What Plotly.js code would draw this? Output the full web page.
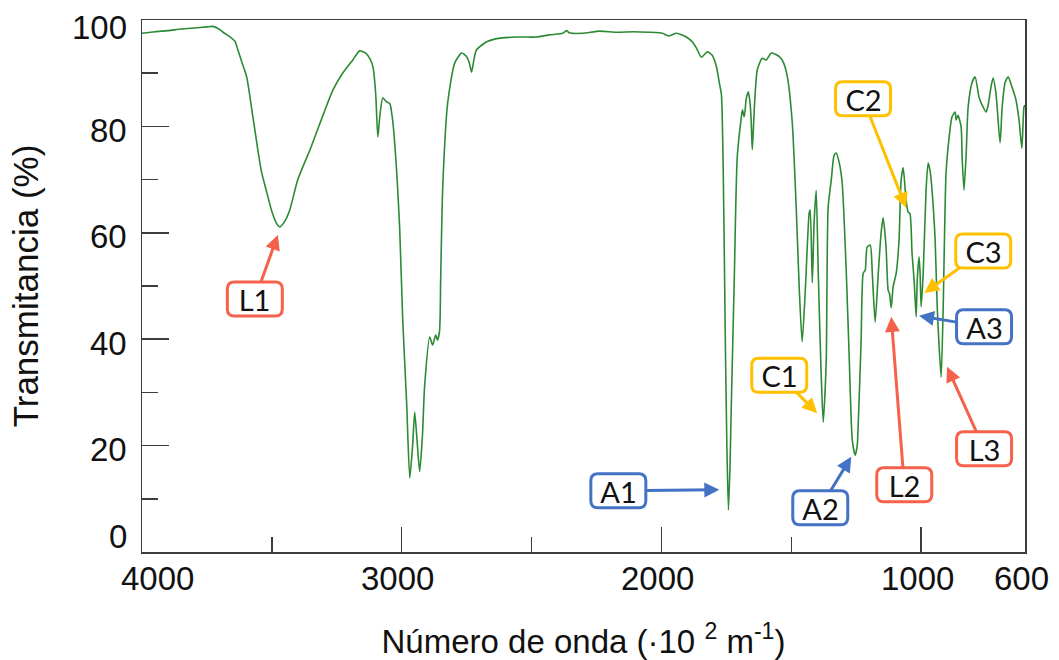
<!DOCTYPE html>
<html>
<head>
<meta charset="utf-8">
<script src="https://cdn.plot.ly/plotly-3.0.1.min.js"></script>
<style>
  html, body { margin: 0; padding: 0; background: #fff; }
  #chart { width: 1059px; height: 660px; }
</style>
</head>
<body>
<div id="chart"></div>
<script>
// IR spectrum: wavenumber (·10^2 m^-1) vs transmittance (%)
const wavenumber = [
  4000, 3950, 3900, 3850, 3800, 3750, 3727, 3700, 3688, 3660, 3642, 3631, 3615, 3597,
  3573, 3554, 3540, 3519, 3500, 3480, 3469, 3450, 3431, 3400, 3350, 3300, 3265, 3230,
  3188, 3162, 3140, 3120, 3110, 3100, 3092, 3084, 3073, 3058, 3046, 3035, 3020, 3008,
  2996, 2981, 2969, 2958, 2950, 2941, 2931, 2920, 2912, 2892, 2881, 2869, 2862, 2854,
  2850, 2842, 2823, 2796, 2769, 2750, 2740, 2731, 2722, 2712, 2673, 2635, 2558, 2481,
  2431, 2380, 2365, 2355, 2304, 2238, 2173, 2112, 2046, 1996, 1973, 1942, 1904, 1880,
  1865, 1846, 1823, 1805, 1788, 1777, 1769, 1762, 1754, 1748, 1742, 1736, 1731, 1719,
  1708, 1692, 1688, 1681, 1673, 1665, 1658, 1654, 1650, 1642, 1631, 1612, 1596, 1577,
  1546, 1530, 1515, 1496, 1481, 1469, 1458, 1446, 1431, 1427, 1419, 1412, 1404, 1396,
  1385, 1377, 1370, 1365, 1358, 1346, 1335, 1327, 1315, 1304, 1288, 1277, 1265, 1254,
  1246, 1242, 1231, 1223, 1215, 1208, 1196, 1188, 1177, 1165, 1154, 1146, 1135, 1127,
  1122, 1115, 1108, 1096, 1085, 1077, 1069, 1058, 1050, 1043, 1035, 1027, 1019, 1015,
  1008, 1004, 1000, 992, 981, 973, 965, 958, 946, 938, 923, 915, 904, 892,
  881, 869, 865, 858, 846, 842, 835, 827, 819, 804, 792, 777, 765, 750,
  742, 731, 723, 712, 696, 688, 677, 665, 650, 635, 623, 612, 604, 600
];
const transmittance = [
  97.5, 97.8, 98.0, 98.3, 98.5, 98.7, 98.8, 98.2, 97.7, 96.8, 96.0, 94.4, 92.0, 89.3,
  81.8, 75.6, 71.5, 67.5, 64.0, 61.6, 61.1, 62.2, 64.3, 70.0, 76.0, 82.5, 86.8, 89.8,
  92.5, 94.2, 93.8, 92.5, 91.0, 86.0, 78.0, 82.0, 85.4, 84.6, 84.3, 81.2, 72.0, 61.1,
  43.6, 28.0, 13.9, 20.0, 26.3, 21.0, 15.1, 22.0, 31.0, 40.4, 38.9, 40.8, 39.8, 41.7,
  51.1, 68.6, 84.4, 91.9, 93.8, 93.1, 92.0, 90.2, 92.5, 94.4, 95.9, 96.5, 96.8, 96.8,
  97.2, 97.5, 98.0, 97.6, 97.5, 97.9, 97.7, 97.8, 97.7, 97.5, 97.0, 97.5, 96.8, 95.8,
  94.7, 93.0, 94.0, 93.4, 91.2, 88.2, 86.0, 72.0, 40.0, 20.0, 7.9, 16.0, 27.3, 52.4,
  74.3, 81.8, 83.1, 81.8, 85.3, 86.5, 84.0, 80.6, 75.6, 83.6, 90.6, 92.8, 92.5, 93.8,
  93.1, 92.0, 89.3, 80.6, 64.8, 49.2, 39.5, 49.2, 63.7, 64.3, 50.6, 62.0, 68.0, 52.4,
  33.6, 24.4, 30.0, 36.7, 64.8, 69.9, 74.6, 75.0, 73.1, 69.4, 52.4, 36.7, 21.0, 18.2,
  20.0, 24.2, 39.8, 52.4, 53.0, 57.3, 57.7, 52.4, 43.2, 52.4, 60.0, 62.8, 57.3, 49.2,
  48.6, 45.9, 49.8, 52.4, 58.6, 69.9, 72.2, 66.2, 63.9, 63.6, 56.2, 51.1, 44.2, 51.1,
  55.5, 52.4, 46.1, 52.4, 68.0, 73.1, 71.5, 68.0, 58.6, 46.1, 32.9, 46.1, 71.2, 78.0,
  81.8, 82.7, 81.2, 82.1, 79.9, 74.2, 68.0, 74.2, 83.6, 88.2, 89.3, 85.5, 84.0, 82.7,
  84.0, 87.4, 89.1, 86.3, 76.9, 83.6, 88.2, 89.3, 87.4, 85.0, 81.2, 75.9, 83.6, 84.0
];

// Axis tick labels
const xTickVals = [4000, 3000, 2000, 1000, 600];
const xTickText = ['4000', '3000', '2000', '1000', '600'];
const yTickVals = [0, 20, 40, 60, 80, 100];
const yTickText = ['0', '20', '40', '60', '80', '100'];

// Band assignments pointed at by the callouts
const bandLabels = ['L1', 'A1', 'C1', 'A2', 'L2', 'L3', 'A3', 'C3', 'C2'];
const bandGroups = ['L', 'A', 'C', 'A', 'L', 'L', 'A', 'C', 'C'];
const bandWavenumber = [3477, 1777, 1400, 1269, 1115, 900, 1008, 988, 1058];
const bandTransmittance = [59.6, 11.7, 26.1, 17.9, 44.2, 34.8, 44.4, 48.7, 64.7];

// ---- styling ----
const groupColor = { L: '#F5614A', A: '#4472C4', C: '#FFC000' };
// callout box offset from the arrow tip, in screen pixels
const calloutOffset = {
  L1: [-23, 64], A1: [-101, 1], C1: [-38, -38], A2: [-31, 51],
  L2: [13, 168], L3: [37, 82], A3: [65, 11], C3: [59, -42], C2: [-43, -109]
};
const tickFont = { family: 'Liberation Sans, Arial, sans-serif', size: 33, color: '#111' };
const boxW = 55, boxH = 34, boxR = 7;

function roundRect(cx, cy, w, h, r) {
  const x0 = cx - w / 2, x1 = cx + w / 2, y0 = cy - h / 2, y1 = cy + h / 2;
  return `M${x0 + r},${y1} L${x1 - r},${y1} Q${x1},${y1} ${x1},${y1 - r} ` +
         `L${x1},${y0 + r} Q${x1},${y0} ${x1 - r},${y0} L${x0 + r},${y0} ` +
         `Q${x0},${y0} ${x0},${y0 + r} L${x0},${y1 - r} Q${x0},${y1} ${x0 + r},${y1} Z`;
}

const annotations = [];
const shapes = [];

xTickVals.forEach((v, i) => {
  annotations.push({
    xref: 'x', yref: 'paper', x: v, y: 0, yanchor: 'middle', xanchor: 'center',
    yshift: -26, xshift: v === 4000 ? 15 : -4,
    text: xTickText[i], showarrow: false, font: tickFont
  });
});
yTickVals.forEach((v, i) => {
  annotations.push({
    xref: 'paper', yref: 'y', x: 0, y: v, xanchor: 'right', yanchor: 'middle',
    xshift: -13, yshift: v === 0 ? 16 : (v === 100 ? -7 : -4),
    text: yTickText[i], showarrow: false, font: tickFont
  });
});

bandLabels.forEach((lab, i) => {
  const color = groupColor[bandGroups[i]];
  const [ax, ay] = calloutOffset[lab];
  shapes.push({
    type: 'path', xref: 'x', yref: 'y', xsizemode: 'pixel', ysizemode: 'pixel',
    xanchor: bandWavenumber[i], yanchor: bandTransmittance[i],
    path: roundRect(ax, -ay, boxW, boxH, boxR),
    line: { color: color, width: 3 }, fillcolor: '#ffffff', layer: 'above'
  });
  annotations.push({
    xref: 'x', yref: 'y', x: bandWavenumber[i], y: bandTransmittance[i],
    axref: 'pixel', ayref: 'pixel', ax: ax, ay: ay,
    text: lab, showarrow: true, arrowhead: 2, arrowsize: 1, arrowwidth: 3,
    arrowcolor: color, standoff: 0, startstandoff: 0,
    width: boxW - 6, height: boxH - 6, borderpad: 3, borderwidth: 0,
    bgcolor: 'rgba(0,0,0,0)',
    font: { family: 'Lato, Open Sans, sans-serif', size: 29, color: '#111' }
  });
});

const trace = {
  x: wavenumber, y: transmittance, type: 'scatter', mode: 'lines',
  line: { color: '#2b8a33', width: 1.6, shape: 'spline', smoothing: 0.6 },
  hoverinfo: 'x+y'
};

const axisLine = '#3c3c3c';
const layout = {
  width: 1059, height: 660,
  margin: { l: 142, r: 34, t: 20, b: 108 },
  paper_bgcolor: '#ffffff', plot_bgcolor: '#ffffff',
  showlegend: false,
  xaxis: {
    range: [4000, 600], autorange: false,
    showgrid: false, zeroline: false,
    showline: true, mirror: true, linecolor: axisLine, linewidth: 1.5,
    tickmode: 'linear', tick0: 0, dtick: 1000,
    ticks: 'inside', ticklen: 25, tickwidth: 1.5, tickcolor: axisLine,
    minor: { tickmode: 'linear', tick0: 0, dtick: 500, ticks: 'inside', ticklen: 15, tickwidth: 1.5, tickcolor: axisLine },
    showticklabels: false, automargin: false,
    title: {
      text: 'Número de onda (·10 <sup>2</sup> m<sup>-1</sup>)',
      font: { family: 'Liberation Sans, Arial, sans-serif', size: 33, color: '#111' },
      standoff: 81
    }
  },
  yaxis: {
    range: [0, 100], autorange: false,
    showgrid: false, zeroline: false,
    showline: true, mirror: true, linecolor: axisLine, linewidth: 1.5,
    tickmode: 'linear', tick0: 0, dtick: 20,
    ticks: 'inside', ticklen: 27, tickwidth: 1.5, tickcolor: axisLine,
    minor: { tickmode: 'linear', tick0: 0, dtick: 10, ticks: 'inside', ticklen: 16, tickwidth: 1.5, tickcolor: axisLine },
    showticklabels: false, automargin: false,
    title: {
      text: 'Transmitancia (%)',
      font: { family: 'Liberation Sans, Arial, sans-serif', size: 35, color: '#111' },
      standoff: 91
    }
  },
  annotations: annotations,
  shapes: shapes
};

Plotly.newPlot('chart', [trace], layout, { displayModeBar: false, staticPlot: true });
</script>
</body>
</html>
